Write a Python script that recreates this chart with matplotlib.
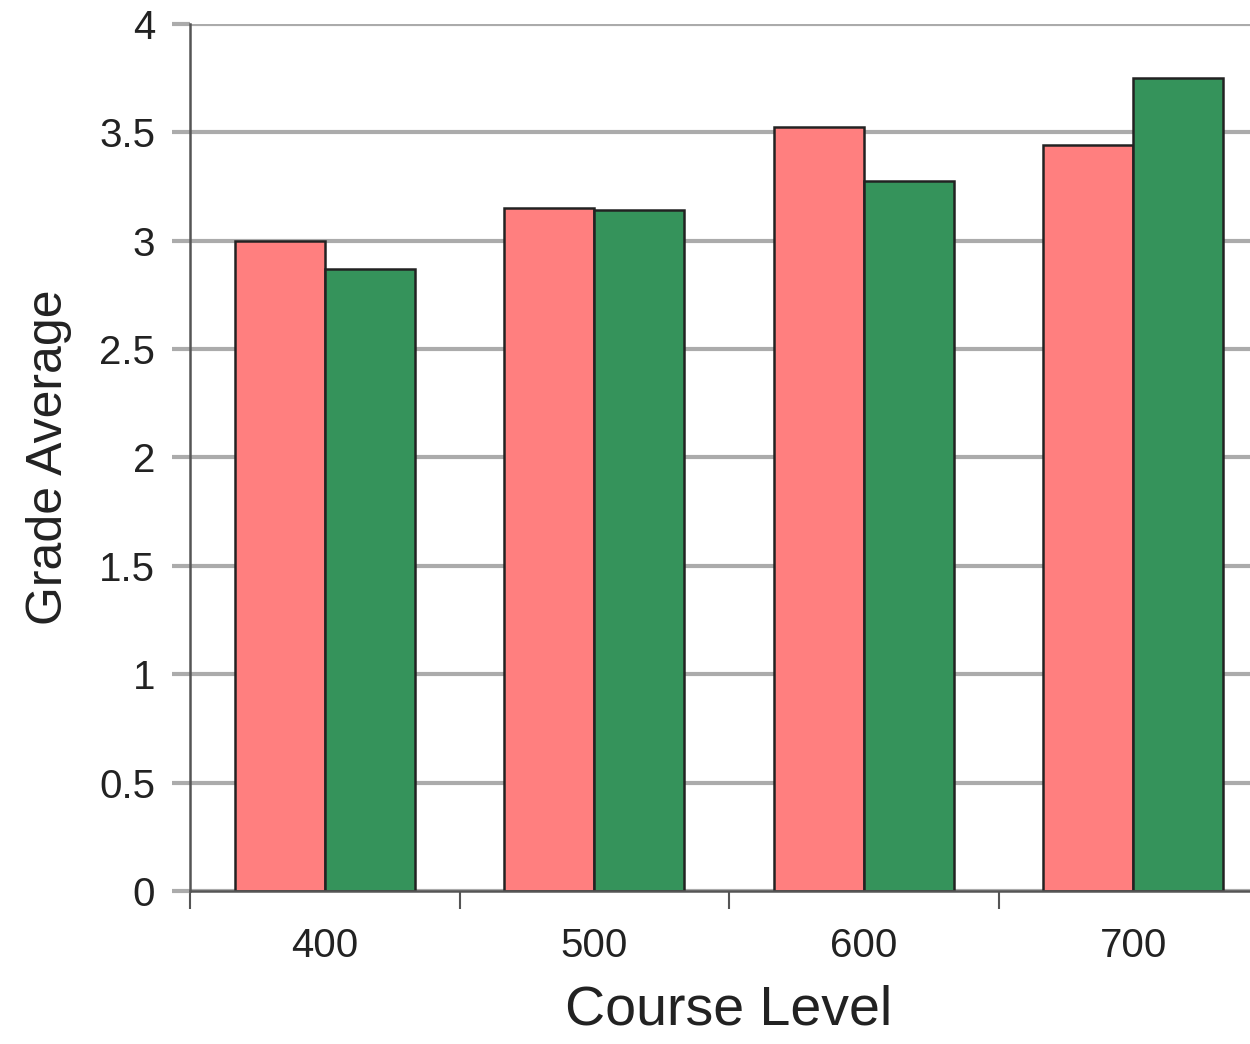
import matplotlib.pyplot as plt
import numpy as np

levels = ['400', '500', '600', '700']
red_vals = [3.00, 3.15, 3.525, 3.44]
green_vals = [2.87, 3.14, 3.275, 3.75]

plt.rcParams['font.family'] = ['Liberation Sans', 'DejaVu Sans']

fig = plt.figure(figsize=(12.5, 10.44), dpi=100)
ax = fig.add_axes([0.152, 0.1466, 0.8624, 0.8305])

x = np.arange(len(levels))
w = 0.334
ax.bar(x - w / 2, red_vals, w, color='#FF7F7F', edgecolor='#222222', linewidth=1.8, zorder=3)
ax.bar(x + w / 2, green_vals, w, color='#35935B', edgecolor='#222222', linewidth=1.8, zorder=3)

ax.set_xlim(-0.5, len(levels) - 0.5)
ax.set_ylim(0, 4)
ax.set_yticks(np.arange(0, 4.01, 0.5))
ax.set_yticklabels(['0', '0.5', '1', '1.5', '2', '2.5', '3', '3.5', '4'])
ax.yaxis.grid(True, color='#ABABAB', linewidth=3, zorder=0)

ax.set_xticks(x)
ax.set_xticklabels(levels)
ax.set_xticks(np.arange(-0.5, len(levels)), minor=True)
ax.tick_params(axis='x', which='major', length=0, pad=26, labelsize=29, labelcolor='#222222')
ax.tick_params(axis='x', which='minor', length=13, width=1.5, color='#555555', direction='out')
ax.tick_params(axis='y', length=13, width=3, color='#ABABAB', pad=12, labelsize=29, labelcolor='#222222')

for s in ['top', 'right']:
    ax.spines[s].set_visible(False)
ax.spines['left'].set_color('#555555')
ax.spines['left'].set_linewidth(1.8)
ax.spines['left'].set_zorder(4)
ax.spines['bottom'].set_color('#555555')
ax.spines['bottom'].set_linewidth(1.8)
ax.spines['bottom'].set_zorder(4)

ax.set_xlabel('Course Level', fontsize=40, labelpad=14, color='#222222')
ax.set_ylabel('Grade Average', fontsize=36, labelpad=20, color='#222222')

fig.savefig('out.png', dpi=100)
